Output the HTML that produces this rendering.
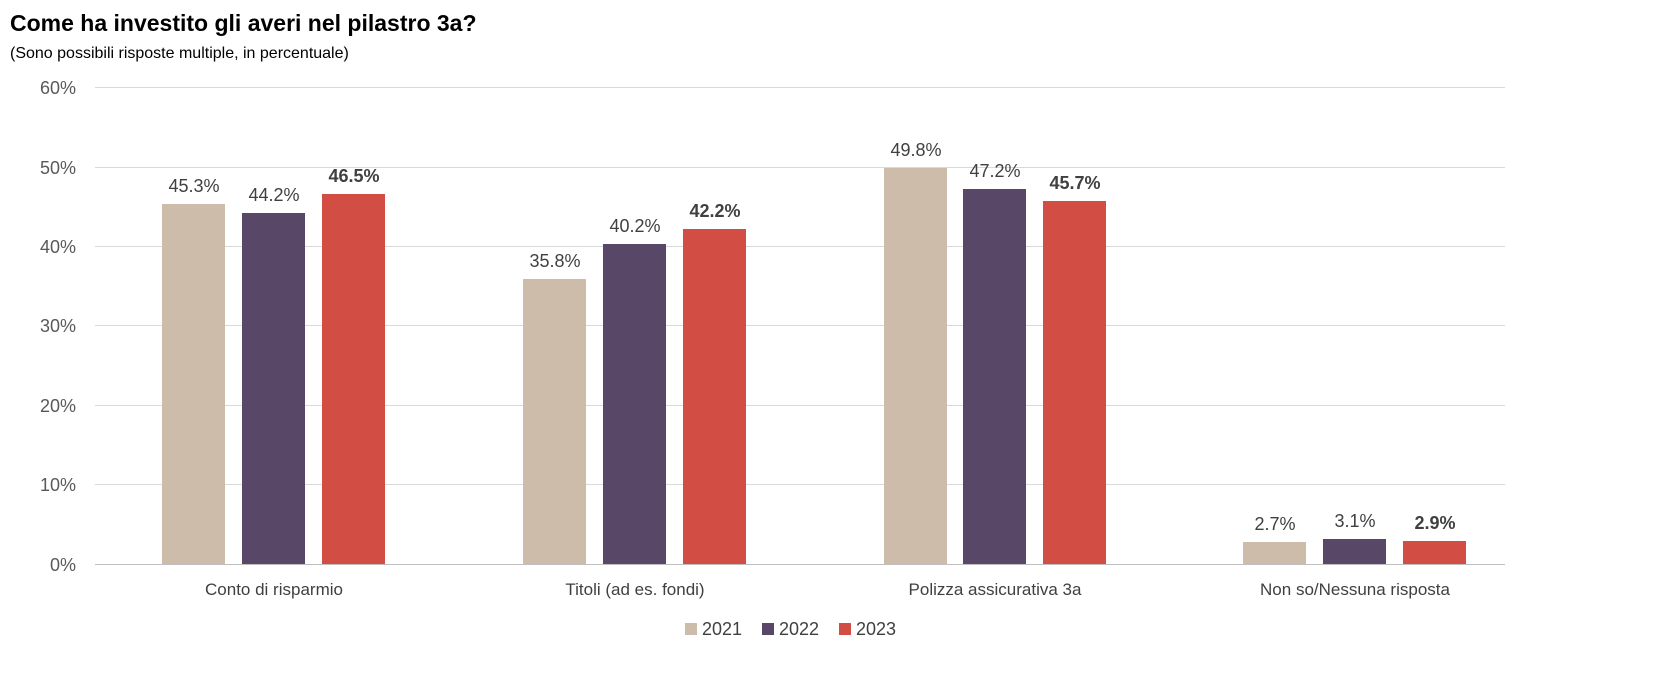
<!DOCTYPE html>
<html><head><meta charset="utf-8"><style>
body{margin:0;background:#fff;width:1669px;height:693px;overflow:hidden;font-family:"Liberation Sans",sans-serif}
</style></head><body>
<svg width="1669" height="693" xmlns="http://www.w3.org/2000/svg" font-family="Liberation Sans, sans-serif">
<text x="10" y="31" font-size="23" font-weight="bold" fill="#000">Come ha investito gli averi nel pilastro 3a?</text>
<text x="10" y="58" font-size="16" fill="#000">(Sono possibili risposte multiple, in percentuale)</text>
<g stroke="#d9d9d9" stroke-width="1">
<line x1="95" x2="1505" y1="87.5" y2="87.5"/><line x1="95" x2="1505" y1="167.5" y2="167.5"/>
<line x1="95" x2="1505" y1="246.5" y2="246.5"/><line x1="95" x2="1505" y1="325.5" y2="325.5"/>
<line x1="95" x2="1505" y1="405.5" y2="405.5"/><line x1="95" x2="1505" y1="484.5" y2="484.5"/>
</g>
<line x1="95" x2="1505" y1="564.5" y2="564.5" stroke="#bfbfbf"/>
<g font-size="18" fill="#595959" text-anchor="end">
<text x="76" y="94">60%</text><text x="76" y="174">50%</text><text x="76" y="253">40%</text>
<text x="76" y="332">30%</text><text x="76" y="412">20%</text><text x="76" y="491">10%</text><text x="76" y="571">0%</text>
</g>
<g id="bars"></g>
<g font-size="18" fill="#404040" text-anchor="middle">
<rect x="162" y="204" width="63" height="360" fill="#cdbcaa"/><text x="194" y="192">45.3%</text>
<rect x="242" y="213" width="63" height="351" fill="#584766"/><text x="274" y="201">44.2%</text>
<rect x="322" y="194" width="63" height="370" fill="#d24e44"/><text x="354" y="182" font-weight="bold">46.5%</text>
<rect x="523" y="279" width="63" height="285" fill="#cdbcaa"/><text x="555" y="267">35.8%</text>
<rect x="603" y="244" width="63" height="320" fill="#584766"/><text x="635" y="232">40.2%</text>
<rect x="683" y="229" width="63" height="335" fill="#d24e44"/><text x="715" y="217" font-weight="bold">42.2%</text>
<rect x="884" y="168" width="63" height="396" fill="#cdbcaa"/><text x="916" y="156">49.8%</text>
<rect x="963" y="189" width="63" height="375" fill="#584766"/><text x="995" y="177">47.2%</text>
<rect x="1043" y="201" width="63" height="363" fill="#d24e44"/><text x="1075" y="189" font-weight="bold">45.7%</text>
<rect x="1243" y="542" width="63" height="22" fill="#cdbcaa"/><text x="1275" y="530">2.7%</text>
<rect x="1323" y="539" width="63" height="25" fill="#584766"/><text x="1355" y="527">3.1%</text>
<rect x="1403" y="541" width="63" height="23" fill="#d24e44"/><text x="1435" y="529" font-weight="bold">2.9%</text>
<g fill="#404040" font-size="17">
<text x="274" y="595">Conto di risparmio</text>
<text x="635" y="595">Titoli (ad es. fondi)</text>
<text x="995" y="595">Polizza assicurativa 3a</text>
<text x="1355" y="595">Non so/Nessuna risposta</text>
</g>
</g>
<g font-size="18" fill="#404040">
<rect x="685" y="623" width="12" height="12" fill="#cdbcaa"/><text x="702" y="635">2021</text>
<rect x="762" y="623" width="12" height="12" fill="#584766"/><text x="779" y="635">2022</text>
<rect x="839" y="623" width="12" height="12" fill="#d24e44"/><text x="856" y="635">2023</text>
</g>
</svg>
</body></html>
